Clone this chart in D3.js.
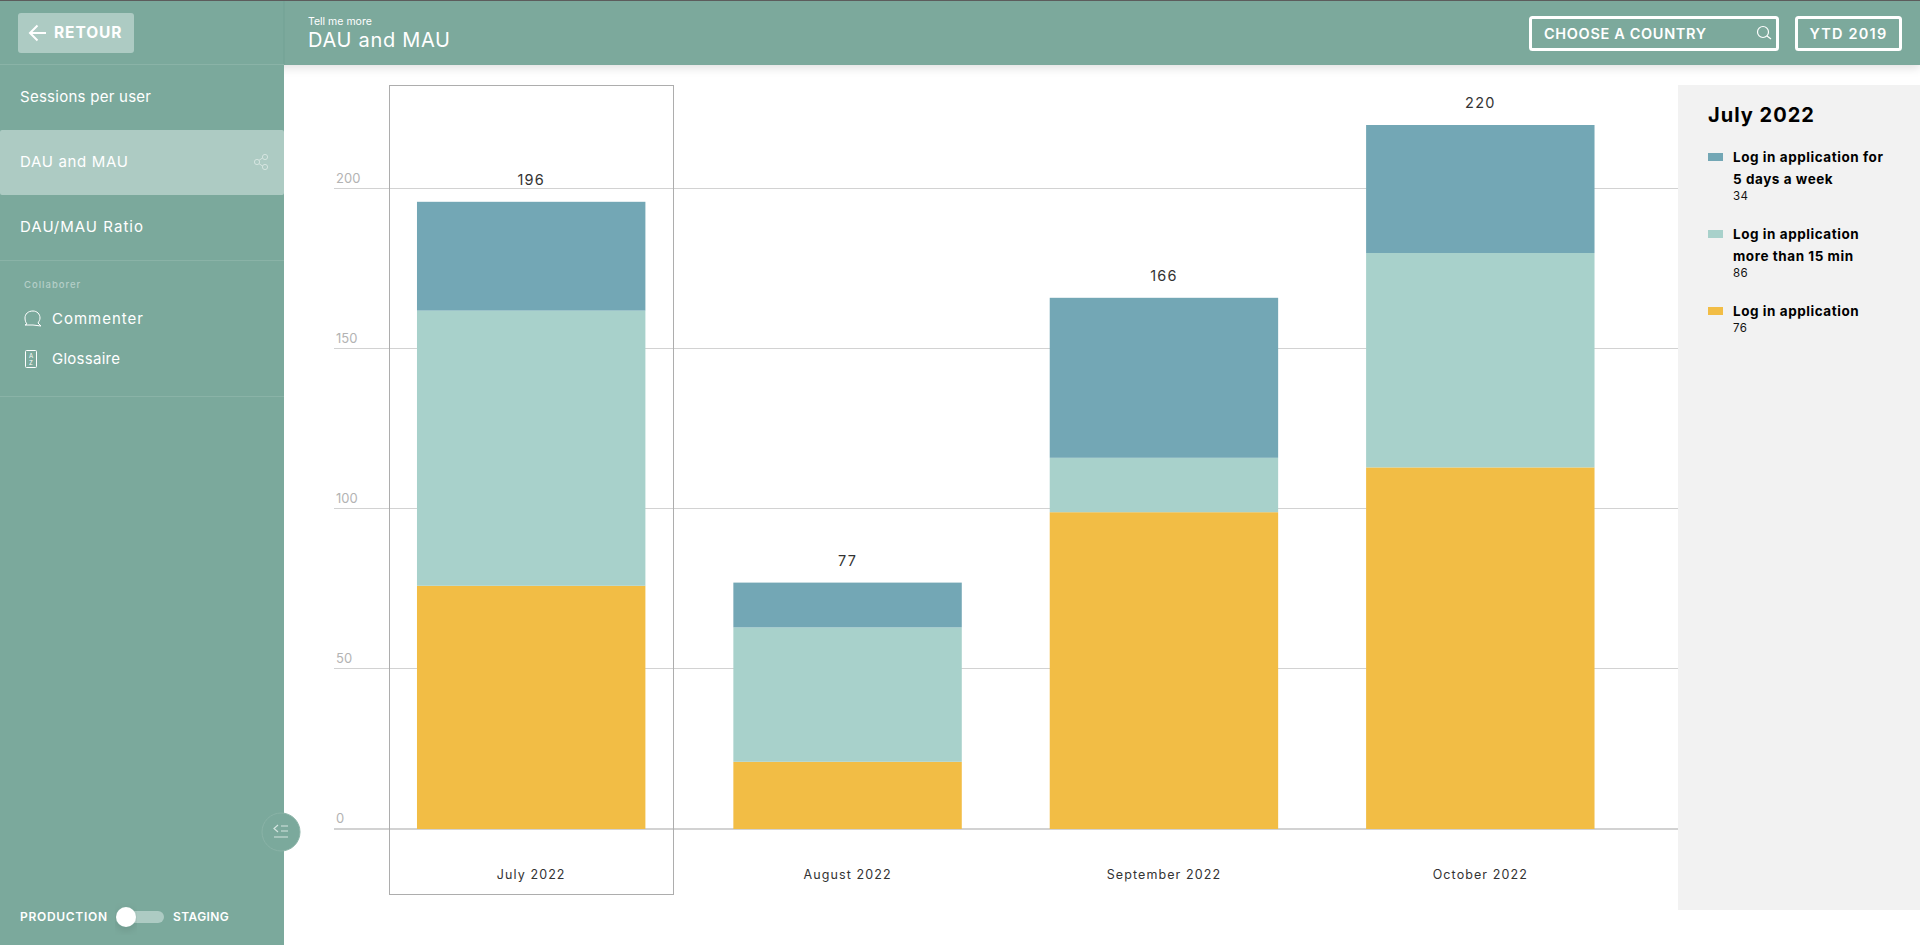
<!DOCTYPE html>
<html>
<head>
<meta charset="utf-8">
<title>DAU and MAU</title>
<script src="https://cdn.jsdelivr.net/npm/d3@7"></script>
<style>
    html, body { margin: 0; padding: 0; background: #fff; overflow: hidden; }
    svg { display: block; font-family: Inter, "Open Sans", sans-serif; }
    .menu { fill: #fff; font-size: 15px; font-weight: 400; }
</style>
</head>
<body>
<div id="visualization"></div>
<script>
// values
const months = ["July 2022", "August 2022", "September 2022", "October 2022"];
const loginApp = [76, 21, 99, 113];
const loginFifteen = [86, 42, 17, 67];
const loginFiveDays = [34, 14, 50, 40];
const yTicks = [0, 50, 100, 150, 200];

const seriesKeys = ["loginApp", "loginFifteen", "loginFiveDays"];
const seriesColors = ["#f2bd45", "#a8d1cb", "#73a7b5"];
const legendOrder = [
    { key: "loginFiveDays", lines: ["Log in application for", "5 days a week"], values: loginFiveDays, y: 157 },
    { key: "loginFifteen", lines: ["Log in application", "more than 15 min"], values: loginFifteen, y: 234 },
    { key: "loginApp", lines: ["Log in application"], values: loginApp, y: 311 }
];
const selected = 0;

const width = 1920, height = 945;
const teal = "#7ba99c", tealLight = "#adcbc3";

const svg = d3.select("#visualization").append("svg")
    .attr("width", width)
    .attr("height", height);

const defs = svg.append("defs");
const shadow = defs.append("filter").attr("id", "shadow")
    .attr("x", "-5%").attr("y", "-20%").attr("width", "110%").attr("height", "160%");
shadow.append("feDropShadow")
    .attr("dx", 0).attr("dy", 3).attr("stdDeviation", 5)
    .attr("flood-color", "#000").attr("flood-opacity", 0.12);

// ---- chart ----
const rows = months.map((m, i) => ({
    month: m,
    loginApp: loginApp[i],
    loginFifteen: loginFifteen[i],
    loginFiveDays: loginFiveDays[i]
}));
const totals = months.map((m, i) => loginApp[i] + loginFifteen[i] + loginFiveDays[i]);

const x = d3.scaleBand()
    .domain(months)
    .range([373, 1638.5])
    .paddingInner(0.278)
    .paddingOuter(0.139);

const y = d3.scaleLinear()
    .domain([0, 200])
    .range([829, 189]);

const color = d3.scaleOrdinal().domain(seriesKeys).range(seriesColors);

const chart = svg.append("g");

const axis = chart.append("g")
    .attr("transform", "translate(334,0)")
    .call(d3.axisRight(y).tickValues(yTicks).tickSize(1344).offset(-0.5));
axis.select(".domain").remove();
axis.selectAll(".tick line")
    .attr("stroke", "#d2d2d2")
    .attr("stroke-width", d => d === 0 ? 2 : 1)
    .attr("y1", d => d === 0 ? 0.5 : 0)
    .attr("y2", d => d === 0 ? 0.5 : 0);
axis.selectAll(".tick text")
    .attr("x", 2)
    .attr("dy", -6)
    .attr("text-anchor", "start")
    .attr("fill", "#b3b3b3")
    .style("font-size", "13px")
    .style("font-family", "Inter, sans-serif");

const stacked = d3.stack().keys(seriesKeys)(rows);

chart.selectAll(".layer")
    .data(stacked)
    .enter().append("g")
    .attr("class", "layer")
    .attr("fill", d => color(d.key))
    .selectAll("rect")
    .data(d => d)
    .enter().append("rect")
    .attr("x", d => x(d.data.month))
    .attr("y", d => y(d[1]))
    .attr("width", x.bandwidth())
    .attr("height", d => y(d[0]) - y(d[1]));

chart.selectAll(".total")
    .data(months)
    .enter().append("text")
    .attr("class", "total")
    .attr("x", d => x(d) + x.bandwidth() / 2)
    .attr("y", (d, i) => y(totals[i]) - 17)
    .attr("text-anchor", "middle")
    .attr("fill", "#333")
    .style("font-size", "14.5px")
    .style("letter-spacing", "1.2px")
    .text((d, i) => totals[i]);

chart.selectAll(".month")
    .data(months)
    .enter().append("text")
    .attr("class", "month")
    .attr("x", d => x(d) + x.bandwidth() / 2)
    .attr("y", 879)
    .attr("text-anchor", "middle")
    .attr("fill", "#333")
    .style("font-size", "12.5px")
    .style("letter-spacing", "1.1px")
    .text(d => d);

// outline around the selected month
chart.append("rect")
    .attr("x", Math.round(x(months[selected])) - 27.5)
    .attr("y", 85.5)
    .attr("width", Math.round(x.bandwidth()) + 56)
    .attr("height", 809)
    .attr("fill", "none")
    .attr("stroke", "#adadad");

// ---- legend panel ----
const legend = svg.append("g");
legend.append("rect")
    .attr("x", 1678).attr("y", 85)
    .attr("width", 242).attr("height", 825)
    .attr("fill", "#f2f2f2");
legend.append("text")
    .attr("x", 1708).attr("y", 122)
    .attr("fill", "#000")
    .style("font-size", "20px").style("font-weight", 700).style("letter-spacing", "1px")
    .text(months[selected]);

const entries = legend.selectAll(".entry")
    .data(legendOrder)
    .enter().append("g")
    .attr("class", "entry")
    .attr("transform", d => `translate(0,${d.y})`);
entries.append("rect")
    .attr("x", 1708).attr("y", -4)
    .attr("width", 15).attr("height", 8)
    .attr("fill", d => color(d.key));
entries.selectAll(".label")
    .data(d => d.lines)
    .enter().append("text")
    .attr("class", "label")
    .attr("x", 1733)
    .attr("y", (d, i) => 5 + i * 22)
    .attr("fill", "#000")
    .style("font-size", "13.5px").style("font-weight", 700).style("letter-spacing", "0.55px")
    .text(d => d);
entries.append("text")
    .attr("x", 1733)
    .attr("y", d => d.lines.length * 22 - 1)
    .attr("fill", "#111")
    .style("font-size", "11.5px").style("letter-spacing", "0.3px")
    .text(d => d.values[selected]);

// ---- header ----
const header = svg.append("g");
header.append("rect")
    .attr("x", 0).attr("y", 0).attr("width", width).attr("height", 65)
    .attr("fill", teal).attr("filter", "url(#shadow)");
header.append("rect").attr("width", width).attr("height", 1).attr("fill", "#5c5c5c");
header.append("text").attr("x", 308).attr("y", 25)
    .attr("fill", "#fff").style("font-size", "10.5px").text("Tell me more");
header.append("text").attr("x", 308).attr("y", 47)
    .attr("fill", "#fff").style("font-size", "20px").style("letter-spacing", "0.7px").text("DAU and MAU");

header.append("rect")
    .attr("x", 1530.5).attr("y", 17.5).attr("width", 247).attr("height", 32).attr("rx", 2)
    .attr("fill", "none").attr("stroke", "#fff").attr("stroke-width", 3);
header.append("text").attr("x", 1544).attr("y", 39)
    .attr("fill", "#fff").style("font-size", "14.5px").style("font-weight", 600).style("letter-spacing", "0.65px")
    .text("CHOOSE A COUNTRY");
header.append("circle").attr("cx", 1763).attr("cy", 32).attr("r", 5.5)
    .attr("fill", "none").attr("stroke", "#fff").attr("stroke-width", 1.2);
header.append("line")
    .attr("x1", 1767).attr("y1", 36).attr("x2", 1771).attr("y2", 39)
    .attr("stroke", "#fff").attr("stroke-width", 1.2);
header.append("rect")
    .attr("x", 1796.5).attr("y", 17.5).attr("width", 104).attr("height", 32).attr("rx", 2)
    .attr("fill", "none").attr("stroke", "#fff").attr("stroke-width", 3);
header.append("text").attr("x", 1848.5).attr("y", 39).attr("text-anchor", "middle")
    .attr("fill", "#fff").style("font-size", "14.5px").style("font-weight", 600).style("letter-spacing", "1.2px")
    .text("YTD 2019");

// ---- sidebar ----
const side = svg.append("g");
side.append("rect").attr("y", 1).attr("width", 284).attr("height", height - 1).attr("fill", teal);
side.append("line").attr("x1", 284).attr("x2", 284).attr("y1", 1).attr("y2", 65)
    .attr("stroke", "#73a194");

[64.5, 260.5, 396.5].forEach(sy => {
    side.append("line").attr("x1", 0).attr("x2", 284).attr("y1", sy).attr("y2", sy)
        .attr("stroke", "#8ab3a7");
});

side.append("rect").attr("x", 18).attr("y", 13).attr("width", 116).attr("height", 40).attr("rx", 3)
    .attr("fill", tealLight);
side.append("path").attr("d", "M46 33H31M37.5 25.5L30 33L37.5 40.5")
    .attr("fill", "none").attr("stroke", "#fff").attr("stroke-width", 2);
side.append("text").attr("x", 54).attr("y", 38).attr("fill", "#fff")
    .style("font-size", "15.5px").style("font-weight", 700).style("letter-spacing", "0.9px").text("RETOUR");

side.append("rect").attr("y", 130).attr("width", 284).attr("height", 65).attr("rx", 2)
    .attr("fill", tealLight);

side.selectAll(".menu")
    .data([
        { t: "Sessions per user", x: 20, y: 102, w: 131 },
        { t: "DAU and MAU", x: 20, y: 167, w: 108 },
        { t: "DAU/MAU Ratio", x: 20, y: 232, w: 123 },
        { t: "Commenter", x: 52, y: 324, w: 91 },
        { t: "Glossaire", x: 52, y: 364, w: 68 }
    ])
    .enter().append("text")
    .attr("class", "menu")
    .attr("x", d => d.x).attr("y", d => d.y)
    .attr("textLength", d => d.w)
    .attr("lengthAdjust", "spacing")
    .text(d => d.t);

// share icon
const share = side.append("g").attr("fill", "none").attr("stroke", "#d5e5e0").attr("stroke-width", 1);
share.append("path").attr("d", "M258 161L264 157M258 163L264 167");
[[257, 162], [265, 157], [265, 167]].forEach(p => {
    share.append("circle").attr("cx", p[0]).attr("cy", p[1]).attr("r", 2.6).attr("fill", tealLight);
});

side.append("text").attr("x", 24).attr("y", 288).attr("fill", "#b5cfc8")
    .style("font-size", "9.5px").style("font-weight", 500).style("letter-spacing", "1px")
    .text("Collaborer");

// comment icon
side.append("path")
    .attr("d", "M33 311c-5 0-8 3-8 7c0 3 1 5 2 6l-2 1h8M33 311c4 0 7 3 7 7c0 2-1 3-2 5l3 3l-8-1")
    .attr("fill", "none").attr("stroke", "#fff").attr("stroke-width", 1);
// glossary icon
side.append("rect").attr("x", 25.5).attr("y", 350.5).attr("width", 11).attr("height", 17).attr("rx", 1)
    .attr("fill", "none").attr("stroke", "#fff");
side.append("text").attr("x", 31).attr("y", 358).attr("text-anchor", "middle").attr("fill", "#fff")
    .style("font-size", "6px").text("A");
side.append("text").attr("x", 31).attr("y", 365).attr("text-anchor", "middle").attr("fill", "#fff")
    .style("font-size", "6px").text("Z");

// production / staging toggle
side.append("text").attr("x", 20).attr("y", 921).attr("fill", "#fff")
    .style("font-size", "12px").style("font-weight", 600).style("letter-spacing", "0.7px").text("PRODUCTION");
side.append("rect").attr("x", 124).attr("y", 911).attr("width", 40).attr("height", 12).attr("rx", 6)
    .attr("fill", tealLight);
side.append("circle").attr("cx", 126).attr("cy", 917).attr("r", 10).attr("fill", "#fff")
    .attr("filter", "url(#shadow)");
side.append("text").attr("x", 173).attr("y", 921).attr("fill", "#fff")
    .style("font-size", "12px").style("font-weight", 600).style("letter-spacing", "0.4px").text("STAGING");

// collapse button
side.append("circle").attr("cx", 281).attr("cy", 832).attr("r", 19)
    .attr("fill", teal).attr("stroke", "#8ab3a7");
side.append("path").attr("d", "M278 825L274 828.5L278 832M281 826H288M281 831H288M274 837H288")
    .attr("fill", "none").attr("stroke", "#d5e5e0").attr("stroke-width", 1.2);
</script>
</body>
</html>
